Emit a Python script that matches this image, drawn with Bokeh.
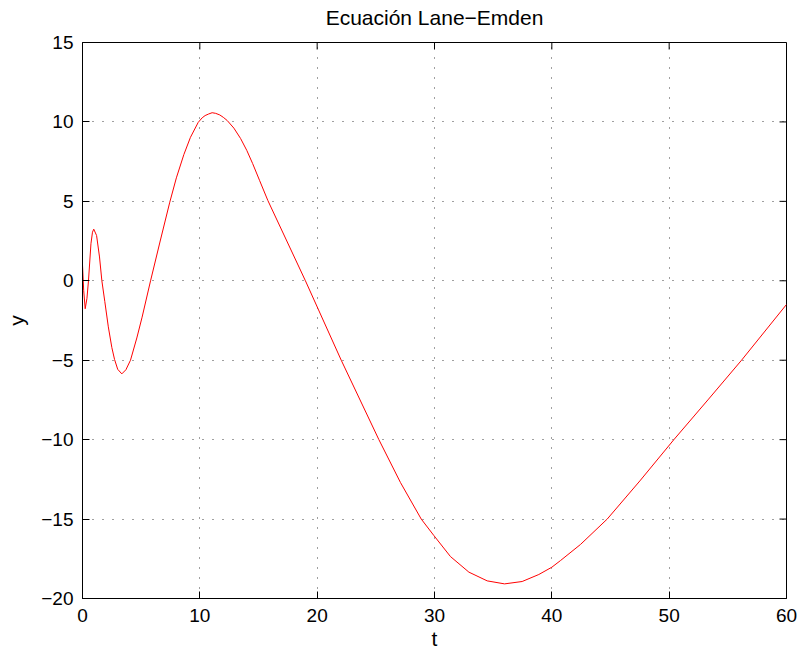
import math

from bokeh.plotting import figure
from bokeh.models import Range1d, LinearAxis, FixedTicker, Label
from bokeh.embed import file_html
from bokeh.resources import INLINE

# Solution samples (t, y)
t_vals = [0, 0.1, 0.23, 0.38, 0.51, 0.72, 0.85, 0.96, 1.2, 1.45, 1.65, 1.9, 2.2,
          2.5, 2.73, 3.0, 3.35, 3.7, 4.09, 4.63, 5.08, 5.8, 6.6, 7.44, 8.0, 8.64,
          9.2, 9.86, 10.2, 10.45, 10.75, 11.05, 11.35, 11.7, 12.0, 12.33, 12.9,
          13.47, 14.0, 14.5, 15.1, 15.8, 19.0, 22.05, 25.26, 27.1, 28.87, 29.94,
          31.36, 32.93, 34.49, 35.97, 37.47, 38.89, 40.0, 40.74, 42.44, 44.72,
          47.5, 50.4, 53.3, 56.17, 60]
y_vals = [1.0, -0.6, -1.76, -1.1, 0.0, 2.33, 3.06, 3.25, 2.85, 1.5, 0.0, -1.3, -2.9,
          -4.2, -4.95, -5.57, -5.86, -5.6, -5.0, -3.6, -2.29, 0.0, 2.44, 4.95, 6.48,
          7.95, 9.03, 9.97, 10.26, 10.4, 10.5, 10.58, 10.54, 10.44, 10.29, 10.09,
          9.61, 8.96, 8.21, 7.38, 6.3, 5.05, 0.0, -5.0, -10.0, -12.7, -15.0, -16.03,
          -17.36, -18.34, -18.89, -19.08, -18.93, -18.49, -18.03, -17.61, -16.6,
          -15.0, -12.6, -10.0, -7.5, -5.0, -1.49]

x_ticks = [0, 10, 20, 30, 40, 50, 60]
x_tick_labels = ["0", "10", "20", "30", "40", "50", "60"]
y_ticks = [-20, -15, -10, -5, 0, 5, 10, 15]
y_tick_labels = ["\u221220", "\u221215", "\u221210", "\u22125", "0", "5", "10", "15"]

X_MIN, X_MAX = 0, 60
Y_MIN, Y_MAX = -20, 15
X_MID = (X_MIN + X_MAX) / 2

FONT = "Liberation Sans"
TICK_LEN = 7

p = figure(width=798, height=650, output_backend="svg", toolbar_location=None,
           x_range=Range1d(X_MIN, X_MAX), y_range=Range1d(Y_MIN, Y_MAX),
           x_axis_location=None, y_axis_location=None,
           min_border_left=82, min_border_right=12, min_border_top=42,
           min_border_bottom=52)

p.outline_line_color = "black"
p.outline_line_width = 1


def style_axis(ax, ticks, labels):
    ax.ticker = FixedTicker(ticks=ticks)
    ax.axis_line_color = "black"
    ax.axis_line_width = 1
    ax.major_tick_line_color = "black"
    ax.major_tick_in = TICK_LEN
    ax.major_tick_out = 0
    ax.minor_tick_line_color = None
    ax.major_label_overrides = {k: v for k, v in zip(ticks, labels)}
    ax.major_label_text_font = FONT
    ax.major_label_text_font_size = "19px"
    ax.major_label_text_color = "black"
    ax.axis_label_text_font = FONT
    ax.axis_label_text_font_style = "normal"
    ax.axis_label_text_font_size = "21px"
    ax.axis_label_text_color = "black"


xb = LinearAxis()
style_axis(xb, x_ticks, x_tick_labels)
xb.major_label_standoff = 10
p.add_layout(xb, "below")

yl = LinearAxis(axis_label="y")
style_axis(yl, y_ticks, y_tick_labels)
yl.major_label_standoff = 9
yl.axis_label_standoff = 10
p.add_layout(yl, "left")

# title above the box and the t label under the tick labels, kept in the
# side panels so they are not clipped to the plot area
p.add_layout(Label(x=X_MID, y=Y_MAX, y_offset=25, text="Ecuación Lane\u2212Emden",
                   text_align="center", text_baseline="alphabetic",
                   text_font=FONT, text_font_size="21px", text_color="black"),
             "above")
p.add_layout(Label(x=X_MID, y=Y_MIN, y_offset=-40, text="t",
                   text_align="center", text_baseline="alphabetic",
                   text_font=FONT, text_font_size="21px", text_color="black"),
             "below")

# inward ticks on the top and right edges of the box
p.ray(x=x_ticks, y=[Y_MAX] * len(x_ticks), length=TICK_LEN, length_units="screen",
      angle=-math.pi / 2, line_color="black", line_width=1)
p.ray(x=[X_MAX] * len(y_ticks), y=y_ticks, length=TICK_LEN, length_units="screen",
      angle=math.pi, line_color="black", line_width=1)

p.xgrid.ticker = FixedTicker(ticks=x_ticks)
p.ygrid.ticker = FixedTicker(ticks=y_ticks)
for g in (p.xgrid, p.ygrid):
    g.grid_line_color = "black"
    g.grid_line_alpha = 0.75
    g.grid_line_width = 1
    g.grid_line_dash = "1 9"

p.line(t_vals, y_vals, line_color="#ff0000", line_width=1)

open("out.html", "w").write(file_html(p, INLINE))
